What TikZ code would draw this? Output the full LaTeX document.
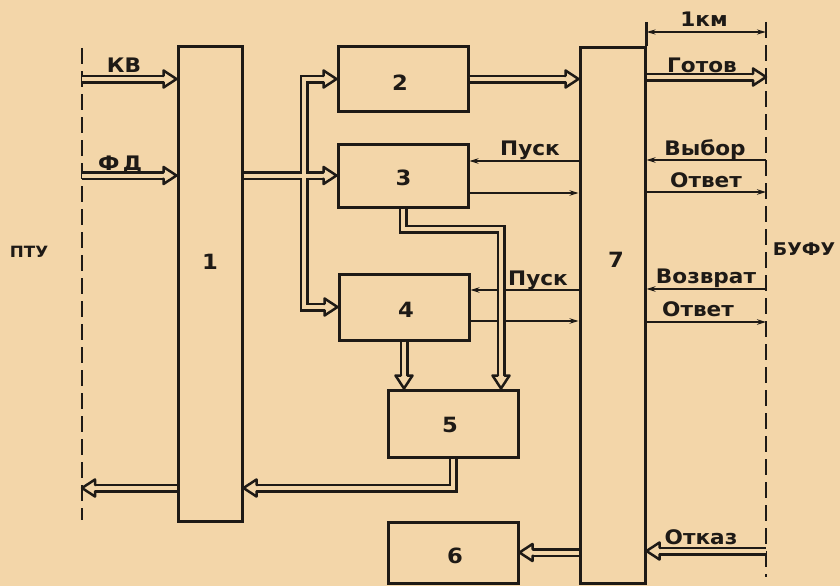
\documentclass[tikz,border=0pt]{standalone}
\usepackage{fontspec}
\setmainfont{DejaVu Sans}
\newfontfamily\labfont[FakeStretch=1.08]{DejaVu Sans}
\usetikzlibrary{arrows.meta}
\definecolor{bg}{RGB}{243,214,169}
\definecolor{ink}{RGB}{30,26,22}
\begin{document}
\begin{tikzpicture}[x=1pt,y=-1pt,
  blk/.style={draw=ink, line width=3pt, rectangle, inner sep=0pt},
  lab/.style={font=\labfont\bfseries\fontsize{20}{22}\selectfont, text=ink, inner sep=0pt, anchor=base},
  num/.style={font=\labfont\bfseries\fontsize{21}{22}\selectfont, text=ink, inner sep=0pt, anchor=base},
  dbl/.style={draw=ink, line width=2.5pt, double=bg, double distance=4pt},
  dblh/.style={dbl, shorten >=12.5pt},
  hhead/.pic={
    \fill[bg] (-13,-8.5) -- (0,0) -- (-13,8.5) -- cycle;
    \draw[ink, line width=2.5pt, line join=round] (-14,-3.25) -- (-13,-3.25) -- (-13,-8.5) -- (0,0) -- (-13,8.5) -- (-13,3.25) -- (-14,3.25);
  },
  sline/.style={draw=ink, line width=2.3pt},
  sar/.style={sline, -{Stealth[length=9pt,width=5.5pt]}},
  dsh/.style={draw=ink, line width=2.6pt, dash pattern=on 16pt off 7pt},
  dim/.style={draw=ink, line width=2.1pt, {Stealth[length=9pt,width=5pt]}-{Stealth[length=9pt,width=5pt]}}
]
\useasboundingbox[fill=bg] (0,0) rectangle (840,586);

% blocks
\node[blk, minimum width=64pt, minimum height=474pt] (b1) at (210,284) {};
\node[blk, minimum width=130pt, minimum height=64pt] (b2) at (403,79) {};
\node[blk, minimum width=130pt, minimum height=63pt] (b3) at (403,175.5) {};
\node[blk, minimum width=130pt, minimum height=66pt] (b4) at (404,307) {};
\node[blk, minimum width=130pt, minimum height=67pt] (b5) at (453,423.5) {};
\node[blk, minimum width=130pt, minimum height=61pt] (b6) at (453,552.5) {};
\node[blk, minimum width=65pt, minimum height=535pt] (b7) at (612.5,315.5) {};

% block numbers
\node[num] (t1) at (210,269) {1};
\node[num] (t2) at (400,90) {2};
\node[num] (t3) at (403.5,185) {3};
\node[num] (t4) at (406,317) {4};
\node[num] (t5) at (450,432) {5};
\node[num] (t6) at (455,563) {6};
\node[num] (t7) at (616,267) {7};

% interface lines (dashed)
\coordinate (lt) at (82,48);
\coordinate (lb) at (82,520);
\coordinate (rt) at (766,22);
\coordinate (rb) at (766,577);
\draw[dsh] (lt) -- (lb);
\draw[dsh] (rt) -- (rb);

% free ends on the interface lines
\coordinate (kv) at (82,79);
\coordinate (fd) at (82,175.5);
\coordinate (ptuout) at (82,488);
\coordinate (gotov) at (766,77);
\coordinate (vybor) at (766,160);
\coordinate (otv1) at (766,192);
\coordinate (vozv) at (766,289);
\coordinate (otv2) at (766,322);
\coordinate (otkaz) at (766,551);
\coordinate (dimR) at (766,32);
\coordinate (bus) at (304,0);
\coordinate (c35) at (501,229);

% dimension 1 km
\draw[sline] (b7.north east) -- (b7.north east |- rt);
\draw[dim] (dimR -| b7.east) -- (dimR);

% single lines
\draw[sar] (b7.west |- 0,161) -- (b3.east |- 0,161);
\draw[sar] (b3.east |- 0,193) -- (b7.west |- 0,193);
\draw[sar] (b7.west |- 0,290) -- (b4.east |- 0,290);
\draw[sar] (b4.east |- 0,321) -- (b7.west |- 0,321);
\draw[sar] (vybor) -- (vybor -| b7.east);
\draw[sar] (otv1 -| b7.east) -- (otv1);
\draw[sar] (vozv) -- (vozv -| b7.east);
\draw[sar] (otv2 -| b7.east) -- (otv2);

% double lines
\draw[dblh] (kv) -- (kv -| b1.west);
\pic at (kv -| b1.west) {hhead};
\draw[dblh] (fd) -- (fd -| b1.west);
\pic at (fd -| b1.west) {hhead};
\draw[dblh] (ptuout -| b1.west) -- (ptuout);
\pic[rotate=180] at (ptuout) {hhead};
\draw[dbl] ([xshift=-12.5pt]b2.west) -- (b2.west -| bus) -- (b4.west -| bus) -- ([xshift=-12.5pt]b4.west)
  (b1.east |- b3.west) -- ([xshift=-12.5pt]b3.west);
\pic at (b2.west) {hhead};
\pic at (b3.west) {hhead};
\pic at (b4.west) {hhead};
\draw[dblh] (b2.east) -- (b2.east -| b7.west);
\pic at (b2.east -| b7.west) {hhead};
\draw[dblh] (b3.south) |- (c35) -- (c35 |- b5.north);
\pic[rotate=-90] at (c35 |- b5.north) {hhead};
\draw[dblh] (b4.south) -- (b4.south |- b5.north);
\pic[rotate=-90] at (b4.south |- b5.north) {hhead};
\draw[dblh] (b5.south) |- (b1.east |- ptuout);
\pic[rotate=180] at (b1.east |- ptuout) {hhead};
\draw[dblh] (b7.west |- b6.east) -- (b6.east);
\pic[rotate=180] at (b6.east) {hhead};
\draw[dblh] (gotov -| b7.east) -- (gotov);
\pic at (gotov) {hhead};
\draw[dblh] (otkaz) -- (otkaz -| b7.east);
\pic[rotate=180] at (otkaz -| b7.east) {hhead};

% labels
\node[lab] (lkv) at (124,73) {КВ};
\node[lab] (lfd) at (120,170) {Ф\,Д};
\node[lab, font=\labfont\bfseries\fontsize{15.5}{18}\selectfont] (lptu) at (29,257) {ПТУ};
\node[lab, font=\labfont\bfseries\fontsize{17.5}{18}\selectfont] (lbufu) at (804,255) {БУФУ};
\node[lab] (lkm) at (704,27) {1км};
\node[lab] (lgotov) at (702,72) {Готов};
\node[lab] (lvybor) at (705,155) {Выбор};
\node[lab] (lotv1) at (706,187) {Ответ};
\node[lab] (lvozv) at (706,283) {Возврат};
\node[lab] (lotv2) at (698,316) {Ответ};
\node[lab] (lotkaz) at (701,544) {Отказ};
\node[lab] (lpusk1) at (530,155) {Пуск};
\node[lab] (lpusk2) at (538,285) {Пуск};
\end{tikzpicture}
\end{document}
